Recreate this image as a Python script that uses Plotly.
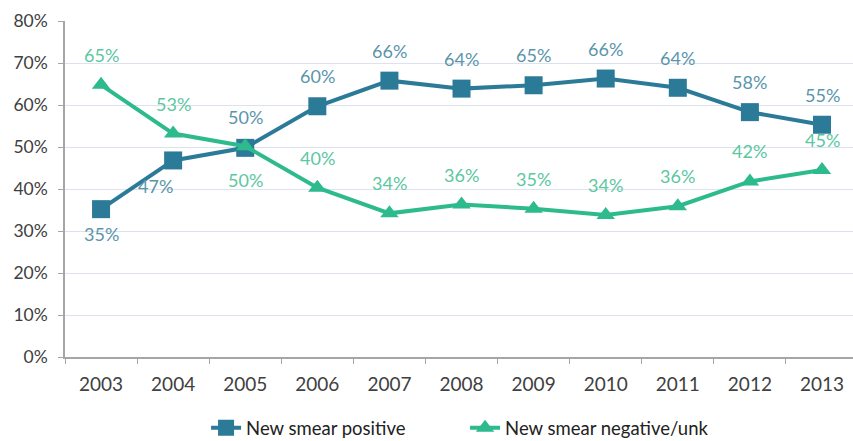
import plotly.graph_objects as go

years = ["2003", "2004", "2005", "2006", "2007", "2008", "2009", "2010", "2011", "2012", "2013"]
positive = [35.2, 46.8, 49.8, 59.7, 65.8, 63.9, 64.7, 66.3, 64.1, 58.3, 55.3]
positive_labels = ["35%", "47%", "50%", "60%", "66%", "64%", "65%", "66%", "64%", "58%", "55%"]
negative = [64.8, 53.2, 50.2, 40.3, 34.2, 36.3, 35.3, 33.8, 35.9, 41.8, 44.5]
negative_labels = ["65%", "53%", "50%", "40%", "34%", "36%", "35%", "34%", "36%", "42%", "45%"]

pos_color = "#2b7a98"
neg_color = "#2dba8c"
pos_text = "#5a95ab"
neg_text = "#5cc7a1"
font_family = "Lato, 'Open Sans', sans-serif"

# label placement (pixel shifts) relative to each point
pos_shift = [(0, -25), (-18, -26), (0, 31)] + [(0, 30)] * 8
neg_shift = [(0, 30), (0, 30), (0, -34)] + [(0, 30)] * 8

fig = go.Figure()
fig.add_trace(go.Scatter(
    x=years, y=positive, mode="lines+markers", name="New smear positive",
    line=dict(color=pos_color, width=4),
    marker=dict(symbol="square", size=18, color=pos_color),
    cliponaxis=False,
))
fig.add_trace(go.Scatter(
    x=years, y=negative, mode="lines+markers", name="New smear negative/unk",
    line=dict(color=neg_color, width=4),
    marker=dict(symbol="triangle-up", size=16, color=neg_color),
    cliponaxis=False,
))

# category axis: annotation x given as the category index
for i, (v, lab, (dx, dy)) in enumerate(zip(positive, positive_labels, pos_shift)):
    fig.add_annotation(x=i, y=v, text=lab, showarrow=False, xshift=dx, yshift=dy,
                       font=dict(color=pos_text, size=18, family=font_family))
for i, (v, lab, (dx, dy)) in enumerate(zip(negative, negative_labels, neg_shift)):
    fig.add_annotation(x=i, y=v, text=lab, showarrow=False, xshift=dx, yshift=dy,
                       font=dict(color=neg_text, size=18, family=font_family))

fig.update_layout(
    width=853, height=441,
    margin=dict(l=65, r=0, t=21, b=84, autoexpand=False),
    paper_bgcolor="white", plot_bgcolor="white",
    font=dict(family=font_family, size=17, color="#404040"),
    showlegend=True,
    legend=dict(orientation="h", x=0.179, xanchor="left", y=-0.212, yanchor="middle",
                font=dict(size=18.5, color="#222222"), entrywidth=214, tracegroupgap=0),
    xaxis=dict(type="category", range=[-0.5, 10.43], showgrid=False, automargin=False,
               showline=True, linecolor="#a6a6a6", linewidth=1.5,
               ticks="outside", tickson="boundaries", ticklen=5, tickcolor="#a6a6a6",
               ticklabelstandoff=9, tickfont=dict(size=19, color="#404040")),
    yaxis=dict(range=[0, 80], dtick=10, ticksuffix="%", showgrid=True, automargin=False,
               gridcolor="#dce2f0", gridwidth=1,
               showline=True, linecolor="#a6a6a6", linewidth=1.5,
               ticks="outside", ticklen=5, tickcolor="#a6a6a6", ticklabelstandoff=7,
               zeroline=False, tickfont=dict(size=17.5, color="#404040")),
)

fig.write_html("out.html", config={"displayModeBar": False},
               post_script="document.body.style.margin='0';")
